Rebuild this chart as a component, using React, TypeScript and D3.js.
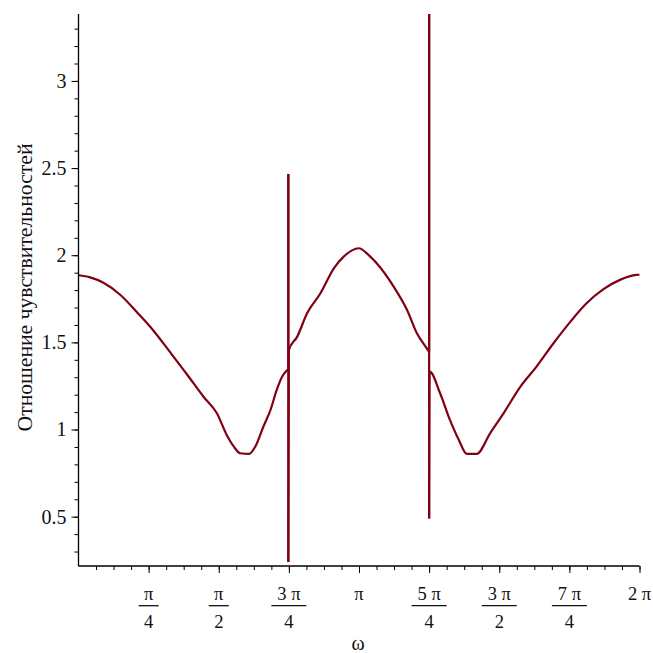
import React, { useRef, useEffect } from 'react';
import * as d3 from 'd3';

// omega samples (rad) and the sensitivity ratio
// repeated omega values at 3pi/4 and 5pi/4 are the vertical jumps
const omega = [
  0.0, 0.13, 0.28, 0.47, 0.66, 0.84, 1.03, 1.22, 1.4, 1.55, 1.66, 1.74, 1.81, 1.91,
  1.98, 2.07, 2.15, 2.22, 2.28, 2.32, 2.35, 2.35, 2.35, 2.356, 2.45, 2.56, 2.71,
  2.86, 2.97, 3.14, 3.25, 3.34, 3.53, 3.68, 3.79, 3.9, 3.927, 3.927, 3.927, 3.933,
  4.05, 4.16, 4.26, 4.35, 4.46, 4.61, 4.76, 4.95, 5.13, 5.32, 5.51, 5.69, 5.88,
  6.07, 6.25, 6.283,
];
const ratio = [
  1.885, 1.873, 1.842, 1.772, 1.67, 1.567, 1.441, 1.313, 1.188, 1.093, 0.969, 0.902,
  0.864, 0.86, 0.902, 1.016, 1.112, 1.227, 1.303, 1.332, 1.345, 2.466, 0.24, 1.456,
  1.533, 1.667, 1.782, 1.925, 1.992, 2.04, 2.001, 1.954, 1.82, 1.686, 1.552, 1.466,
  1.445, 3.4, 0.49, 1.332, 1.208, 1.055, 0.94, 0.86, 0.86, 0.978, 1.093, 1.246,
  1.361, 1.495, 1.619, 1.724, 1.805, 1.86, 1.887, 1.888,
];

const yMajor = [0.5, 1, 1.5, 2, 2.5, 3];
const xTickNum = ['π', 'π', '3 π', 'π', '5 π', '3 π', '7 π', '2 π'];
const xTickDen = ['4', '2', '4', '', '4', '2', '4', ''];

const App = () => {
  const svgRef = useRef(null);

  useEffect(() => {
    const svg = d3.select(svgRef.current);
    svg.selectAll('*').remove();

    const width = 653;
    const height = 653;
    const left = 78.5, right = 639.5, top = 14, bottom = 566;
    const font = '"Liberation Serif", "Times New Roman", serif';
    const red = '#820014';
    const ink = '#111';

    svg.attr('width', width).attr('height', height);

    const x = d3.scaleLinear().domain([0, 2 * Math.PI]).range([left, right]);
    const y = d3.scaleLinear().domain([0.217, 3.384]).range([bottom, top]);

    svg.append('defs').append('clipPath').attr('id', 'plotclip')
      .append('rect')
      .attr('x', left).attr('y', top)
      .attr('width', right - left + 2).attr('height', bottom - top);

    // split into runs of increasing omega; the jumps between runs are drawn straight
    const pts = omega.map((w, i) => [w, ratio[i]]);
    const runs = [[pts[0]]];
    for (let i = 1; i < pts.length; i++) {
      if (pts[i][0] <= pts[i - 1][0]) runs.push([]);
      runs[runs.length - 1].push(pts[i]);
    }
    const smooth = d3.line().x(d => x(d[0])).y(d => y(d[1])).curve(d3.curveMonotoneX);
    const straight = d3.line().x(d => x(d[0])).y(d => y(d[1]));

    const plot = svg.append('g')
      .attr('clip-path', 'url(#plotclip)')
      .attr('fill', 'none')
      .attr('stroke', red)
      .attr('stroke-width', 2.2)
      .attr('stroke-linejoin', 'round');
    runs.forEach((r, k) => {
      if (r.length > 1) plot.append('path').attr('d', smooth(r));
      if (k > 0) plot.append('path').attr('d', straight([runs[k - 1][runs[k - 1].length - 1], r[0]]));
    });

    // y axis: minor ticks every 0.1, major with labels every 0.5
    const yMinor = d3.range(3, 34).map(v => v / 10);
    svg.append('g')
      .attr('transform', `translate(${left},0)`)
      .call(d3.axisLeft(y).tickValues(yMinor).tickSize(4).tickFormat(() => ''))
      .call(g => g.select('.domain').remove());
    const yAxis = svg.append('g')
      .attr('transform', `translate(${left},0)`)
      .call(d3.axisLeft(y).tickValues(yMajor).tickSize(7).tickPadding(5).tickFormat(d => String(d)));
    yAxis.select('.domain').attr('d', `M0,${top}V${bottom}`).attr('stroke-width', 1.3);
    yAxis.selectAll('text').attr('font-family', font).attr('font-size', 20).attr('fill', ink);

    // x axis: minor ticks every pi/16, major every pi/4
    const xMinor = d3.range(1, 33).map(k => (k * Math.PI) / 16);
    const xMajor = d3.range(1, 9).map(k => (k * Math.PI) / 4);
    svg.append('g')
      .attr('transform', `translate(0,${bottom})`)
      .call(d3.axisBottom(x).tickValues(xMinor).tickSize(4).tickFormat(() => ''))
      .call(g => g.select('.domain').remove());
    const xAxis = svg.append('g')
      .attr('transform', `translate(0,${bottom})`)
      .call(d3.axisBottom(x).tickValues(xMajor).tickSize(7).tickFormat(() => ''));
    xAxis.select('.domain').attr('d', `M${left},0H${right}`).attr('stroke-width', 1.3);

    const lab = svg.append('g')
      .attr('font-family', font)
      .attr('font-size', 18.5)
      .attr('fill', ink)
      .attr('text-anchor', 'middle');
    xMajor.forEach((v, i) => {
      const g = lab.append('g').attr('transform', `translate(${x(v)},0)`);
      g.append('text').attr('y', 600).text(xTickNum[i]);
      if (xTickDen[i]) {
        const w = xTickNum[i].length > 1 ? 35 : 20;
        g.append('line')
          .attr('x1', -w / 2).attr('x2', w / 2)
          .attr('y1', 605.7).attr('y2', 605.7)
          .attr('stroke', ink).attr('stroke-width', 1.3);
        g.append('text').attr('y', 628).text(xTickDen[i]);
      }
    });

    // axis titles
    svg.append('text')
      .attr('x', 358).attr('y', 650)
      .attr('text-anchor', 'middle')
      .attr('font-family', font).attr('font-size', 20).attr('fill', ink)
      .text('ω');

    svg.append('text')
      .attr('transform', 'translate(32,287.5) rotate(-90)')
      .attr('text-anchor', 'middle')
      .attr('font-family', font).attr('font-size', 20).attr('fill', ink)
      .attr('textLength', 288).attr('lengthAdjust', 'spacingAndGlyphs')
      .text('Отношение чувствительностей');
  }, []);

  return <svg ref={svgRef} style={{ position: 'absolute', left: 0, top: 0, display: 'block' }}></svg>;
};

export default App;
